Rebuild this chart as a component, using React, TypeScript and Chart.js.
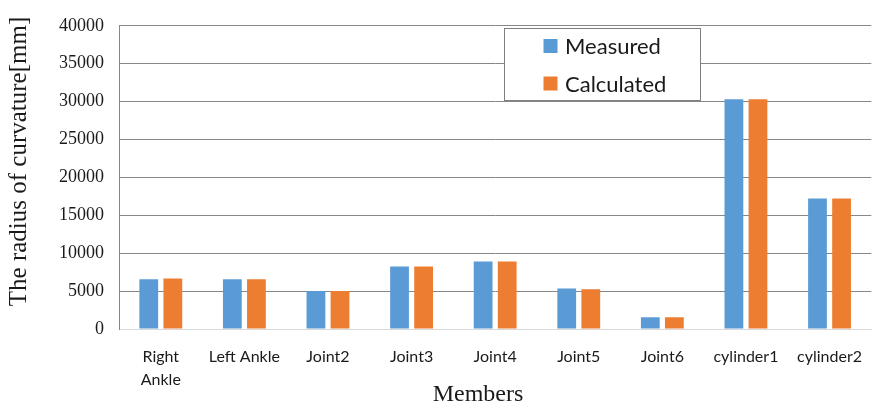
import React, { useEffect, useRef } from "react";
import { Chart, registerables } from "chart.js";

Chart.register(...registerables);

const categories: (string | string[])[] = [
  ["Right", "Ankle"],
  "Left Ankle",
  "Joint2",
  "Joint3",
  "Joint4",
  "Joint5",
  "Joint6",
  "cylinder1",
  "cylinder2",
];
const measured = [6550, 6550, 5000, 8250, 8900, 5350, 1560, 30300, 17200];
const calculated = [6650, 6550, 5000, 8250, 8900, 5250, 1560, 30300, 17200];
const seriesNames = ["Measured", "Calculated"];
const seriesColors = ["#5B9BD5", "#ED7D31"];
const yTitle = "The radius of curvature[mm]";
const xTitle = "Members";

const overlayPlugin = {
  id: "overlay",
  afterDraw(chart: any) {
    const ctx = chart.ctx as CanvasRenderingContext2D;
    ctx.save();
    // legend box
    ctx.fillStyle = "#ffffff";
    ctx.fillRect(504.5, 28.5, 196, 72);
    ctx.strokeStyle = "#7f7f7f";
    ctx.lineWidth = 1;
    ctx.strokeRect(504.5, 28.5, 196, 72);
    const rows = [46, 83.5];
    ctx.font = "22px Lato";
    ctx.textBaseline = "middle";
    ctx.textAlign = "left";
    seriesNames.forEach((n, i) => {
      ctx.fillStyle = seriesColors[i];
      ctx.fillRect(543.5, rows[i] - 7, 14, 14);
      ctx.fillStyle = "#1a1a1a";
      ctx.fillText(n, 565, rows[i] + 1);
    });
    // axis titles
    ctx.fillStyle = "#1a1a1a";
    ctx.font = "25px 'Liberation Serif'";
    ctx.textAlign = "center";
    ctx.textBaseline = "middle";
    ctx.save();
    ctx.translate(19, 161.5);
    ctx.rotate(-Math.PI / 2);
    ctx.fillText(yTitle, 0, 0);
    ctx.restore();
    ctx.font = "24px 'Liberation Serif'";
    ctx.fillText(xTitle, 478, 395);
    ctx.restore();
  },
};

export default function App() {
  const ref = useRef<HTMLCanvasElement>(null);
  useEffect(() => {
    if (!ref.current) return;
    const chart = new Chart(ref.current, {
      type: "bar",
      data: {
        labels: categories,
        datasets: [
          {
            label: seriesNames[0],
            data: measured,
            backgroundColor: seriesColors[0],
            categoryPercentage: 0.576,
            barPercentage: 0.78,
          },
          {
            label: seriesNames[1],
            data: calculated,
            backgroundColor: seriesColors[1],
            categoryPercentage: 0.576,
            barPercentage: 0.78,
          },
        ],
      },
      options: {
        responsive: false,
        animation: false,
        layout: { padding: { top: 13, right: 0, bottom: 0, left: 0 } },
        plugins: {
          legend: { display: false },
          tooltip: { enabled: false },
        },
        scales: {
          x: {
            grid: { display: false, drawTicks: false },
            border: { display: true, color: "#d9d9d9", width: 1 },
            ticks: {
              font: { family: "Lato", size: 16, lineHeight: 1.47 },
              color: "#1a1a1a",
              padding: 16,
              maxRotation: 0,
              autoSkip: false,
            },
            afterFit: (s: any) => {
              s.height = 80;
            },
          },
          y: {
            min: 0,
            max: 40000,
            ticks: {
              stepSize: 5000,
              font: { family: "Liberation Serif", size: 18 },
              color: "#1a1a1a",
              padding: 15,
              callback: (v: any) => String(v),
            },
            grid: {
              drawTicks: false,
              color: (c: any) => (c.tick && c.tick.value === 0 ? "#d9d9d9" : "#878787"),
              lineWidth: 1,
            },
            border: { display: true, color: "#878787", width: 1 },
            afterFit: (s: any) => {
              s.width = 119;
            },
          },
        },
      },
      plugins: [overlayPlugin],
    });
    return () => chart.destroy();
  }, []);
  return (
    <div style={{ position: "absolute", left: 0, top: 0, width: 878, height: 409, background: "#fff" }}>
      <canvas ref={ref} width={878} height={409} style={{ display: "block" }} />
    </div>
  );
}
